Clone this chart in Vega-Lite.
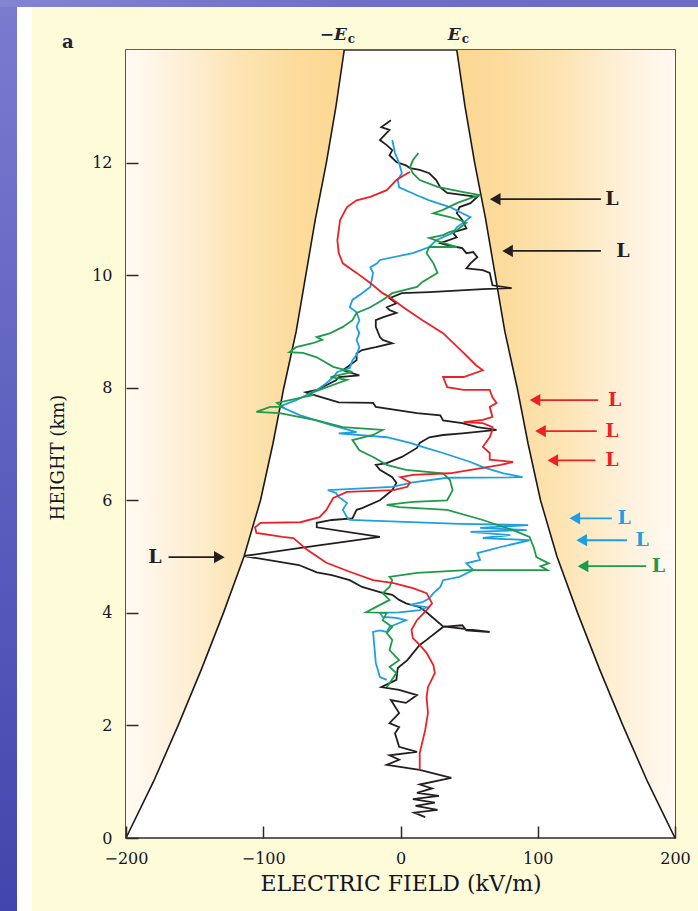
{
"$schema": "https://vega.github.io/schema/vega-lite/v6.json",
"background": "#fefbd8",
"padding": 0,
"spacing": 0,
"bounds": "flush",
"config": {"view": {"stroke": null}},
"datasets": {
"ec": [
{"z":0,"left":-200,"right":200},{"z":1,"left":-180,"right":180},{"z":2,"left":-162,"right":162},{"z":3,"left":-145,"right":145},{"z":4,"left":-129,"right":129},{"z":5,"left":-114,"right":114},{"z":6,"left":-102,"right":102},{"z":7,"left":-93,"right":93},{"z":8,"left":-85,"right":85},{"z":9,"left":-76,"right":76},{"z":10,"left":-69,"right":69},{"z":11,"left":-62,"right":62},{"z":12,"left":-54,"right":54},{"z":13,"left":-47,"right":47},{"z":14,"left":-41,"right":41}
],
"arrows": [
{"s":"k","z":11.35,"tail":146,"tip":69,"lab":154},
{"s":"k","z":10.43,"tail":146,"tip":78,"lab":162},
{"s":"r","z":7.78,"tail":144,"tip":98,"lab":156},
{"s":"r","z":7.23,"tail":143,"tip":102,"lab":154},
{"s":"r","z":6.71,"tail":142,"tip":111,"lab":154},
{"s":"b","z":5.68,"tail":154,"tip":127,"lab":163},
{"s":"b","z":5.29,"tail":165,"tip":132,"lab":176},
{"s":"g","z":4.83,"tail":179,"tip":133,"lab":188},
{"s":"k","z":4.99,"tail":-169,"tip":-132,"lab":-179}
],
"eclab": [
{"x":-42,"z":14,"t":"−E"},{"x":41,"z":14,"t":"E"}
],
"prof": [
{"s":"k","i":1,"E":18,"z":0.37},{"s":"k","i":2,"E":10,"z":0.45},{"s":"k","i":3,"E":27,"z":0.5},{"s":"k","i":4,"E":11,"z":0.57},{"s":"k","i":5,"E":25,"z":0.63},{"s":"k","i":6,"E":9,"z":0.69},{"s":"k","i":7,"E":28,"z":0.75},{"s":"k","i":8,"E":12,"z":0.8},{"s":"k","i":9,"E":23,"z":0.88},{"s":"k","i":10,"E":14,"z":0.95},
{"s":"k","i":11,"E":37,"z":1.07},{"s":"k","i":12,"E":14,"z":1.21},{"s":"k","i":13,"E":-10,"z":1.3},{"s":"k","i":14,"E":-1,"z":1.39},{"s":"k","i":15,"E":-8,"z":1.47},{"s":"k","i":16,"E":12,"z":1.53},{"s":"k","i":17,"E":-1,"z":1.62},{"s":"k","i":18,"E":-4,"z":1.86},{"s":"k","i":19,"E":-1,"z":1.97},{"s":"k","i":20,"E":-8,"z":2.04},
{"s":"k","i":21,"E":-1,"z":2.22},{"s":"k","i":22,"E":-7,"z":2.45},{"s":"k","i":23,"E":4,"z":2.4},{"s":"k","i":24,"E":12,"z":2.54},{"s":"k","i":25,"E":-1,"z":2.63},{"s":"k","i":26,"E":-14,"z":2.68},{"s":"k","i":27,"E":-3,"z":2.81},{"s":"k","i":28,"E":-2,"z":3.02},{"s":"k","i":29,"E":5,"z":3.16},{"s":"k","i":30,"E":14,"z":3.43},
{"s":"k","i":31,"E":19,"z":3.52},{"s":"k","i":32,"E":31,"z":3.75},{"s":"k","i":33,"E":45,"z":3.78},{"s":"k","i":34,"E":48,"z":3.69},{"s":"k","i":35,"E":65,"z":3.66},{"s":"k","i":36,"E":45,"z":3.72},{"s":"k","i":37,"E":31,"z":3.76},{"s":"k","i":38,"E":19,"z":4.01},{"s":"k","i":39,"E":14,"z":4.1},{"s":"k","i":40,"E":4,"z":4.17},
{"s":"k","i":41,"E":-1,"z":4.23},{"s":"k","i":42,"E":-6,"z":4.32},{"s":"k","i":43,"E":-15,"z":4.37},{"s":"k","i":44,"E":-28,"z":4.46},{"s":"k","i":45,"E":-37,"z":4.58},{"s":"k","i":46,"E":-50,"z":4.67},{"s":"k","i":47,"E":-61,"z":4.72},{"s":"k","i":48,"E":-74,"z":4.85},{"s":"k","i":49,"E":-114,"z":5.01},{"s":"k","i":50,"E":-74,"z":5.15},
{"s":"k","i":51,"E":-15,"z":5.35},{"s":"k","i":52,"E":-61,"z":5.52},{"s":"k","i":53,"E":-61,"z":5.6},{"s":"k","i":54,"E":-50,"z":5.65},{"s":"k","i":55,"E":-35,"z":5.68},{"s":"k","i":56,"E":-32,"z":5.83},{"s":"k","i":57,"E":-28,"z":5.86},{"s":"k","i":58,"E":-15,"z":6.0},{"s":"k","i":59,"E":-6,"z":6.18},{"s":"k","i":60,"E":-3,"z":6.31},
{"s":"k","i":61,"E":-6,"z":6.41},{"s":"k","i":62,"E":-15,"z":6.54},{"s":"k","i":63,"E":-18,"z":6.63},{"s":"k","i":64,"E":-10,"z":6.66},{"s":"k","i":65,"E":1,"z":6.77},{"s":"k","i":66,"E":12,"z":6.93},{"s":"k","i":67,"E":14,"z":7.02},{"s":"k","i":68,"E":21,"z":7.12},{"s":"k","i":69,"E":31,"z":7.16},{"s":"k","i":70,"E":45,"z":7.19},
{"s":"k","i":71,"E":70,"z":7.25},{"s":"k","i":72,"E":56,"z":7.3},{"s":"k","i":73,"E":45,"z":7.37},{"s":"k","i":74,"E":31,"z":7.42},{"s":"k","i":75,"E":29,"z":7.51},{"s":"k","i":76,"E":12,"z":7.55},{"s":"k","i":77,"E":-18,"z":7.66},{"s":"k","i":78,"E":-20,"z":7.73},{"s":"k","i":79,"E":-45,"z":7.74},{"s":"k","i":80,"E":-67,"z":7.9},
{"s":"k","i":81,"E":-69,"z":7.92},{"s":"k","i":82,"E":-61,"z":7.96},{"s":"k","i":83,"E":-47,"z":8.13},{"s":"k","i":84,"E":-45,"z":8.19},{"s":"k","i":85,"E":-30,"z":8.22},{"s":"k","i":86,"E":-42,"z":8.31},{"s":"k","i":87,"E":-37,"z":8.4},{"s":"k","i":88,"E":-32,"z":8.49},{"s":"k","i":89,"E":-32,"z":8.61},{"s":"k","i":90,"E":-28,"z":8.67},
{"s":"k","i":91,"E":-18,"z":8.72},{"s":"k","i":92,"E":-6,"z":8.79},{"s":"k","i":93,"E":-13,"z":8.85},{"s":"k","i":94,"E":-15,"z":8.9},{"s":"k","i":95,"E":-18,"z":9.08},{"s":"k","i":96,"E":-18,"z":9.2},{"s":"k","i":97,"E":-13,"z":9.25},{"s":"k","i":98,"E":-3,"z":9.33},{"s":"k","i":99,"E":-8,"z":9.38},{"s":"k","i":100,"E":-10,"z":9.43},
{"s":"k","i":101,"E":-3,"z":9.5},{"s":"k","i":102,"E":-8,"z":9.59},{"s":"k","i":103,"E":1,"z":9.68},{"s":"k","i":104,"E":21,"z":9.7},{"s":"k","i":105,"E":60,"z":9.75},{"s":"k","i":106,"E":81,"z":9.77},{"s":"k","i":107,"E":67,"z":9.82},{"s":"k","i":108,"E":65,"z":10.04},{"s":"k","i":109,"E":60,"z":10.09},{"s":"k","i":110,"E":48,"z":10.12},
{"s":"k","i":111,"E":51,"z":10.21},{"s":"k","i":112,"E":56,"z":10.32},{"s":"k","i":113,"E":53,"z":10.41},{"s":"k","i":114,"E":48,"z":10.39},{"s":"k","i":115,"E":45,"z":10.48},{"s":"k","i":116,"E":41,"z":10.5},{"s":"k","i":117,"E":36,"z":10.52},{"s":"k","i":118,"E":29,"z":10.57},{"s":"k","i":119,"E":41,"z":10.67},{"s":"k","i":120,"E":38,"z":10.76},
{"s":"k","i":121,"E":48,"z":10.83},{"s":"k","i":122,"E":45,"z":10.98},{"s":"k","i":123,"E":41,"z":11.1},{"s":"k","i":124,"E":43,"z":11.21},{"s":"k","i":125,"E":51,"z":11.28},{"s":"k","i":126,"E":56,"z":11.39},{"s":"k","i":127,"E":34,"z":11.46},{"s":"k","i":128,"E":29,"z":11.56},{"s":"k","i":129,"E":26,"z":11.69},{"s":"k","i":130,"E":21,"z":11.81},
{"s":"k","i":131,"E":14,"z":11.87},{"s":"k","i":132,"E":7,"z":11.9},{"s":"k","i":133,"E":4,"z":11.95},{"s":"k","i":134,"E":-3,"z":12.01},{"s":"k","i":135,"E":-8,"z":12.13},{"s":"k","i":136,"E":-6,"z":12.22},{"s":"k","i":137,"E":-10,"z":12.31},{"s":"k","i":138,"E":-15,"z":12.4},{"s":"k","i":139,"E":-13,"z":12.45},{"s":"k","i":140,"E":-8,"z":12.58},
{"s":"k","i":141,"E":-14,"z":12.63},{"s":"k","i":142,"E":-10,"z":12.7},{"s":"k","i":143,"E":-7,"z":12.75},
{"s":"b","i":1,"E":-10,"z":2.81},{"s":"b","i":2,"E":-15,"z":2.86},{"s":"b","i":3,"E":-18,"z":3.11},{"s":"b","i":4,"E":-19,"z":3.39},{"s":"b","i":5,"E":-20,"z":3.66},{"s":"b","i":6,"E":-15,"z":3.69},{"s":"b","i":7,"E":-10,"z":3.66},{"s":"b","i":8,"E":-8,"z":3.75},{"s":"b","i":9,"E":-1,"z":3.82},{"s":"b","i":10,"E":4,"z":3.87},
{"s":"b","i":11,"E":-3,"z":3.91},{"s":"b","i":12,"E":-13,"z":3.93},{"s":"b","i":13,"E":-15,"z":4.0},{"s":"b","i":14,"E":-1,"z":4.01},{"s":"b","i":15,"E":14,"z":4.05},{"s":"b","i":16,"E":19,"z":4.1},{"s":"b","i":17,"E":7,"z":4.14},{"s":"b","i":18,"E":16,"z":4.19},{"s":"b","i":19,"E":21,"z":4.26},{"s":"b","i":20,"E":24,"z":4.35},
{"s":"b","i":21,"E":29,"z":4.46},{"s":"b","i":22,"E":31,"z":4.58},{"s":"b","i":23,"E":43,"z":4.64},{"s":"b","i":24,"E":53,"z":4.76},{"s":"b","i":25,"E":48,"z":4.88},{"s":"b","i":26,"E":58,"z":4.94},{"s":"b","i":27,"E":56,"z":5.06},{"s":"b","i":28,"E":65,"z":5.12},{"s":"b","i":29,"E":73,"z":5.17},{"s":"b","i":30,"E":94,"z":5.29},
{"s":"b","i":31,"E":60,"z":5.33},{"s":"b","i":32,"E":80,"z":5.38},{"s":"b","i":33,"E":51,"z":5.44},{"s":"b","i":34,"E":92,"z":5.47},{"s":"b","i":35,"E":58,"z":5.51},{"s":"b","i":36,"E":93,"z":5.56},{"s":"b","i":37,"E":43,"z":5.58},{"s":"b","i":38,"E":-37,"z":5.65},{"s":"b","i":39,"E":-39,"z":5.7},{"s":"b","i":40,"E":-42,"z":5.83},
{"s":"b","i":41,"E":-39,"z":5.95},{"s":"b","i":42,"E":-45,"z":6.06},{"s":"b","i":43,"E":-47,"z":6.13},{"s":"b","i":44,"E":-53,"z":6.18},{"s":"b","i":45,"E":-6,"z":6.24},{"s":"b","i":46,"E":9,"z":6.32},{"s":"b","i":47,"E":34,"z":6.4},{"s":"b","i":48,"E":89,"z":6.41},{"s":"b","i":49,"E":75,"z":6.48},{"s":"b","i":50,"E":60,"z":6.59},
{"s":"b","i":51,"E":51,"z":6.68},{"s":"b","i":52,"E":31,"z":6.84},{"s":"b","i":53,"E":16,"z":6.95},{"s":"b","i":54,"E":7,"z":7.02},{"s":"b","i":55,"E":-10,"z":7.12},{"s":"b","i":56,"E":-45,"z":7.19},{"s":"b","i":57,"E":-32,"z":7.21},{"s":"b","i":58,"E":-51,"z":7.34},{"s":"b","i":59,"E":-73,"z":7.51},{"s":"b","i":60,"E":-88,"z":7.67},
{"s":"b","i":61,"E":-76,"z":7.78},{"s":"b","i":62,"E":-61,"z":7.96},{"s":"b","i":63,"E":-54,"z":8.08},{"s":"b","i":64,"E":-49,"z":8.19},{"s":"b","i":65,"E":-46,"z":8.28},{"s":"b","i":66,"E":-37,"z":8.35},{"s":"b","i":67,"E":-35,"z":8.49},{"s":"b","i":68,"E":-32,"z":8.58},{"s":"b","i":69,"E":-30,"z":8.72},{"s":"b","i":70,"E":-32,"z":8.85},
{"s":"b","i":71,"E":-30,"z":8.97},{"s":"b","i":72,"E":-32,"z":9.08},{"s":"b","i":73,"E":-30,"z":9.2},{"s":"b","i":74,"E":-32,"z":9.34},{"s":"b","i":75,"E":-37,"z":9.43},{"s":"b","i":76,"E":-35,"z":9.56},{"s":"b","i":77,"E":-28,"z":9.68},{"s":"b","i":78,"E":-22,"z":9.79},{"s":"b","i":79,"E":-20,"z":10.04},{"s":"b","i":80,"E":-22,"z":10.14},
{"s":"b","i":81,"E":-17,"z":10.21},{"s":"b","i":82,"E":-15,"z":10.27},{"s":"b","i":83,"E":9,"z":10.39},{"s":"b","i":84,"E":21,"z":10.5},{"s":"b","i":85,"E":26,"z":10.62},{"s":"b","i":86,"E":38,"z":10.75},{"s":"b","i":87,"E":41,"z":10.85},{"s":"b","i":88,"E":45,"z":10.92},{"s":"b","i":89,"E":51,"z":11.03},{"s":"b","i":90,"E":45,"z":11.1},
{"s":"b","i":91,"E":41,"z":11.15},{"s":"b","i":92,"E":36,"z":11.21},{"s":"b","i":93,"E":21,"z":11.33},{"s":"b","i":94,"E":12,"z":11.42},{"s":"b","i":95,"E":-1,"z":11.56},{"s":"b","i":96,"E":-2,"z":11.69},{"s":"b","i":97,"E":1,"z":11.81},{"s":"b","i":98,"E":-1,"z":11.99},{"s":"b","i":99,"E":-4,"z":12.17},{"s":"b","i":100,"E":-6,"z":12.4},
{"s":"g","i":1,"E":-10,"z":2.68},{"s":"g","i":2,"E":-3,"z":2.93},{"s":"g","i":3,"E":-8,"z":3.04},{"s":"g","i":4,"E":-1,"z":3.16},{"s":"g","i":5,"E":-8,"z":3.34},{"s":"g","i":6,"E":-6,"z":3.52},{"s":"g","i":7,"E":-10,"z":3.64},{"s":"g","i":8,"E":-6,"z":3.75},{"s":"g","i":9,"E":-13,"z":3.87},{"s":"g","i":10,"E":-10,"z":4.0},
{"s":"g","i":11,"E":-25,"z":4.01},{"s":"g","i":12,"E":-8,"z":4.23},{"s":"g","i":13,"E":-13,"z":4.35},{"s":"g","i":14,"E":-8,"z":4.46},{"s":"g","i":15,"E":-6,"z":4.58},{"s":"g","i":16,"E":-8,"z":4.64},{"s":"g","i":17,"E":12,"z":4.71},{"s":"g","i":18,"E":48,"z":4.76},{"s":"g","i":19,"E":107,"z":4.76},{"s":"g","i":20,"E":102,"z":4.83},
{"s":"g","i":21,"E":108,"z":4.88},{"s":"g","i":22,"E":99,"z":4.99},{"s":"g","i":23,"E":97,"z":5.17},{"s":"g","i":24,"E":94,"z":5.35},{"s":"g","i":25,"E":82,"z":5.47},{"s":"g","i":26,"E":60,"z":5.65},{"s":"g","i":27,"E":34,"z":5.83},{"s":"g","i":28,"E":-1,"z":5.88},{"s":"g","i":29,"E":-10,"z":5.92},{"s":"g","i":30,"E":9,"z":5.97},
{"s":"g","i":31,"E":34,"z":6.0},{"s":"g","i":32,"E":38,"z":6.18},{"s":"g","i":33,"E":36,"z":6.36},{"s":"g","i":34,"E":31,"z":6.48},{"s":"g","i":35,"E":4,"z":6.54},{"s":"g","i":36,"E":-10,"z":6.63},{"s":"g","i":37,"E":-20,"z":6.77},{"s":"g","i":38,"E":-30,"z":6.89},{"s":"g","i":39,"E":-35,"z":7.07},{"s":"g","i":40,"E":-20,"z":7.16},
{"s":"g","i":41,"E":-13,"z":7.25},{"s":"g","i":42,"E":-42,"z":7.3},{"s":"g","i":43,"E":-61,"z":7.42},{"s":"g","i":44,"E":-88,"z":7.55},{"s":"g","i":45,"E":-105,"z":7.57},{"s":"g","i":46,"E":-95,"z":7.66},{"s":"g","i":47,"E":-86,"z":7.66},{"s":"g","i":48,"E":-90,"z":7.73},{"s":"g","i":49,"E":-64,"z":7.87},{"s":"g","i":50,"E":-66,"z":7.9},
{"s":"g","i":51,"E":-39,"z":8.14},{"s":"g","i":52,"E":-51,"z":8.19},{"s":"g","i":53,"E":-35,"z":8.28},{"s":"g","i":54,"E":-49,"z":8.37},{"s":"g","i":55,"E":-61,"z":8.54},{"s":"g","i":56,"E":-71,"z":8.62},{"s":"g","i":57,"E":-81,"z":8.63},{"s":"g","i":58,"E":-76,"z":8.72},{"s":"g","i":59,"E":-64,"z":8.79},{"s":"g","i":60,"E":-57,"z":8.85},
{"s":"g","i":61,"E":-61,"z":8.9},{"s":"g","i":62,"E":-51,"z":8.97},{"s":"g","i":63,"E":-42,"z":9.08},{"s":"g","i":64,"E":-35,"z":9.2},{"s":"g","i":65,"E":-32,"z":9.33},{"s":"g","i":66,"E":-22,"z":9.43},{"s":"g","i":67,"E":-13,"z":9.56},{"s":"g","i":68,"E":-6,"z":9.68},{"s":"g","i":69,"E":12,"z":9.79},{"s":"g","i":70,"E":16,"z":9.88},
{"s":"g","i":71,"E":27,"z":10.04},{"s":"g","i":72,"E":24,"z":10.21},{"s":"g","i":73,"E":19,"z":10.39},{"s":"g","i":74,"E":21,"z":10.5},{"s":"g","i":75,"E":41,"z":10.5},{"s":"g","i":76,"E":29,"z":10.59},{"s":"g","i":77,"E":21,"z":10.66},{"s":"g","i":78,"E":31,"z":10.71},{"s":"g","i":79,"E":36,"z":10.77},{"s":"g","i":80,"E":41,"z":10.8},
{"s":"g","i":81,"E":48,"z":10.93},{"s":"g","i":82,"E":43,"z":10.98},{"s":"g","i":83,"E":36,"z":11.03},{"s":"g","i":84,"E":24,"z":11.1},{"s":"g","i":85,"E":31,"z":11.16},{"s":"g","i":86,"E":41,"z":11.28},{"s":"g","i":87,"E":51,"z":11.37},{"s":"g","i":88,"E":58,"z":11.42},{"s":"g","i":89,"E":45,"z":11.48},{"s":"g","i":90,"E":27,"z":11.57},
{"s":"g","i":91,"E":14,"z":11.69},{"s":"g","i":92,"E":9,"z":11.81},{"s":"g","i":93,"E":7,"z":11.92},{"s":"g","i":94,"E":9,"z":12.04},{"s":"g","i":95,"E":13,"z":12.17},
{"s":"r","i":1,"E":14,"z":1.21},{"s":"r","i":2,"E":14,"z":1.51},{"s":"r","i":3,"E":18,"z":1.92},{"s":"r","i":4,"E":20,"z":2.22},{"s":"r","i":5,"E":19,"z":2.5},{"s":"r","i":6,"E":20,"z":2.68},{"s":"r","i":7,"E":25,"z":2.93},{"s":"r","i":8,"E":24,"z":3.07},{"s":"r","i":9,"E":19,"z":3.29},{"s":"r","i":10,"E":14,"z":3.43},
{"s":"r","i":11,"E":9,"z":3.55},{"s":"r","i":12,"E":8,"z":3.7},{"s":"r","i":13,"E":12,"z":3.87},{"s":"r","i":14,"E":19,"z":4.05},{"s":"r","i":15,"E":23,"z":4.17},{"s":"r","i":16,"E":19,"z":4.35},{"s":"r","i":17,"E":9,"z":4.44},{"s":"r","i":18,"E":-5,"z":4.53},{"s":"r","i":19,"E":-20,"z":4.58},{"s":"r","i":20,"E":-37,"z":4.73},
{"s":"r","i":21,"E":-54,"z":4.89},{"s":"r","i":22,"E":-68,"z":5.12},{"s":"r","i":23,"E":-78,"z":5.33},{"s":"r","i":24,"E":-86,"z":5.35},{"s":"r","i":25,"E":-105,"z":5.42},{"s":"r","i":26,"E":-106,"z":5.52},{"s":"r","i":27,"E":-102,"z":5.6},{"s":"r","i":28,"E":-73,"z":5.61},{"s":"r","i":29,"E":-59,"z":5.7},{"s":"r","i":30,"E":-54,"z":5.83},
{"s":"r","i":31,"E":-49,"z":6.04},{"s":"r","i":32,"E":-39,"z":6.15},{"s":"r","i":33,"E":-5,"z":6.18},{"s":"r","i":34,"E":5,"z":6.24},{"s":"r","i":35,"E":7,"z":6.32},{"s":"r","i":36,"E":0,"z":6.41},{"s":"r","i":37,"E":9,"z":6.45},{"s":"r","i":38,"E":36,"z":6.48},{"s":"r","i":39,"E":73,"z":6.63},{"s":"r","i":40,"E":82,"z":6.68},
{"s":"r","i":41,"E":65,"z":6.72},{"s":"r","i":42,"E":65,"z":6.84},{"s":"r","i":43,"E":60,"z":6.95},{"s":"r","i":44,"E":65,"z":7.12},{"s":"r","i":45,"E":67,"z":7.25},{"s":"r","i":46,"E":67,"z":7.3},{"s":"r","i":47,"E":60,"z":7.37},{"s":"r","i":48,"E":46,"z":7.39},{"s":"r","i":49,"E":60,"z":7.43},{"s":"r","i":50,"E":67,"z":7.48},
{"s":"r","i":51,"E":65,"z":7.66},{"s":"r","i":52,"E":70,"z":7.73},{"s":"r","i":53,"E":67,"z":7.83},{"s":"r","i":54,"E":65,"z":7.96},{"s":"r","i":55,"E":46,"z":7.96},{"s":"r","i":56,"E":34,"z":8.01},{"s":"r","i":57,"E":31,"z":8.19},{"s":"r","i":58,"E":46,"z":8.19},{"s":"r","i":59,"E":60,"z":8.31},{"s":"r","i":60,"E":55,"z":8.4},
{"s":"r","i":61,"E":46,"z":8.62},{"s":"r","i":62,"E":31,"z":8.97},{"s":"r","i":63,"E":16,"z":9.2},{"s":"r","i":64,"E":2,"z":9.43},{"s":"r","i":65,"E":-8,"z":9.61},{"s":"r","i":66,"E":-13,"z":9.68},{"s":"r","i":67,"E":-22,"z":9.86},{"s":"r","i":68,"E":-32,"z":10.04},{"s":"r","i":69,"E":-42,"z":10.21},{"s":"r","i":70,"E":-45,"z":10.39},
{"s":"r","i":71,"E":-46,"z":10.62},{"s":"r","i":72,"E":-44,"z":10.98},{"s":"r","i":73,"E":-39,"z":11.21},{"s":"r","i":74,"E":-32,"z":11.33},{"s":"r","i":75,"E":-22,"z":11.39},{"s":"r","i":76,"E":-10,"z":11.51},{"s":"r","i":77,"E":-3,"z":11.69},{"s":"r","i":78,"E":5,"z":11.81},{"s":"r","i":79,"E":7,"z":11.83}
]
},
"vconcat": [
{"width": 698, "height": 7, "data": {"values": [{"a": 1}]},
 "mark": {"type": "rect", "color": {"gradient": "linear", "x1": 0, "y1": 0, "x2": 1, "y2": 0, "stops": [{"offset": 0, "color": "#8384d2"}, {"offset": 0.5, "color": "#6e6fc7"}, {"offset": 1, "color": "#6a6cc5"}]}}},
{"hconcat": [
  {"hconcat": [
    {"width": 17, "height": 904, "data": {"values": [{"a": 1}]},
     "mark": {"type": "rect", "color": {"gradient": "linear", "x1": 0, "y1": 0, "x2": 0, "y2": 1, "stops": [{"offset": 0, "color": "#7a7bcf"}, {"offset": 0.45, "color": "#6062c1"}, {"offset": 1, "color": "#4345ae"}]}}},
    {"width": 15, "height": 904, "data": {"values": [{"a": 1}]},
     "mark": {"type": "rect", "color": "#ffffff"}}
  ], "spacing": 0, "bounds": "flush"},
  {"vconcat": [
    {"width": 549, "height": 1, "data": {"values": [{"a": 1}]}, "mark": {"type": "rect", "opacity": 0}},
    {"width": 549, "height": 788,
     "view": {"stroke": "#2b2b2b", "strokeWidth": 1.6, "fill": "#ffffff"},
     "title": {"text": "a", "anchor": "start", "frame": "group", "dx": -64, "dy": 30, "font": "DejaVu Serif", "fontSize": 18, "fontWeight": "bold", "color": "#1f1f33"},
     "layer": [
      {"data": {"name": "ec"},
       "mark": {"type": "area", "orient": "horizontal", "color": {"gradient": "linear", "x1": 0, "y1": 0, "x2": 1, "y2": 0, "stops": [{"offset": 0, "color": "#fffaf3"}, {"offset": 0.25, "color": "#fef0d8"}, {"offset": 0.52, "color": "#fde4b3"}, {"offset": 0.8, "color": "#fcdb9c"}, {"offset": 1, "color": "#fcd892"}]}},
       "encoding": {
         "y": {"field": "z", "type": "quantitative", "scale": {"domain": [0, 14], "nice": false, "zero": false},
               "axis": {"title": "HEIGHT (km)", "values": [0, 2, 4, 6, 8, 10, 12], "format": "d", "ticks": true, "tickSize": 12, "offset": -12, "labelPadding": 14, "domain": false, "grid": false, "zindex": 2, "labelFont": "DejaVu Serif", "labelFontSize": 16, "labelColor": "#151528", "tickColor": "#2b2b2b", "tickWidth": 1.5, "titleFont": "DejaVu Serif", "titleFontSize": 18, "titleFontWeight": "normal", "titleColor": "#151528", "titlePadding": 24, "titleY": 407}},
         "x": {"field": "left", "type": "quantitative", "scale": {"domain": [-200, 200], "nice": false, "zero": false},
               "axis": {"title": "ELECTRIC FIELD (kV/m)", "values": [-200, -100, 0, 100, 200], "format": "d", "ticks": true, "tickSize": 12, "offset": -12, "labelPadding": 12, "labelFlush": false, "domain": false, "grid": false, "zindex": 2, "labelFont": "DejaVu Serif", "labelFontSize": 16, "labelColor": "#151528", "tickColor": "#2b2b2b", "tickWidth": 1.5, "titleFont": "DejaVu Serif", "titleFontSize": 22, "titleFontWeight": "normal", "titleColor": "#151528", "titlePadding": 7}},
         "x2": {"datum": -200}}},
      {"data": {"name": "ec"},
       "mark": {"type": "area", "orient": "horizontal", "color": {"gradient": "linear", "x1": 0, "y1": 0, "x2": 1, "y2": 0, "stops": [{"offset": 0, "color": "#fcd892"}, {"offset": 0.2, "color": "#fcdb9c"}, {"offset": 0.48, "color": "#fde4b3"}, {"offset": 0.75, "color": "#fef0d8"}, {"offset": 1, "color": "#fffaf3"}]}},
       "encoding": {
         "y": {"field": "z", "type": "quantitative"},
         "x": {"field": "right", "type": "quantitative"},
         "x2": {"datum": 200}}},
      {"data": {"name": "ec"},
       "mark": {"type": "line", "color": "#1a1a1a", "strokeWidth": 1.6},
       "encoding": {
         "y": {"field": "z", "type": "quantitative"},
         "x": {"field": "left", "type": "quantitative"},
         "order": {"field": "z"}}},
      {"data": {"name": "ec"},
       "mark": {"type": "line", "color": "#1a1a1a", "strokeWidth": 1.6},
       "encoding": {
         "y": {"field": "z", "type": "quantitative"},
         "x": {"field": "right", "type": "quantitative"},
         "order": {"field": "z"}}},
      {"data": {"name": "prof"},
       "mark": {"type": "line", "strokeWidth": 1.8},
       "encoding": {
         "y": {"field": "z", "type": "quantitative"},
         "x": {"field": "E", "type": "quantitative"},
         "color": {"field": "s", "type": "nominal", "scale": {"domain": ["k", "b", "g", "r"], "range": ["#231f20", "#1d9fe2", "#1f9a48", "#ec2126"]}, "legend": null},
         "order": {"field": "i"}}},
      {"data": {"name": "arrows"},
       "mark": {"type": "rule", "strokeWidth": 1.8},
       "encoding": {
         "y": {"field": "z", "type": "quantitative"},
         "x": {"field": "tail", "type": "quantitative"},
         "x2": {"field": "tip"},
         "color": {"field": "s", "type": "nominal", "legend": null}}},
      {"data": {"name": "arrows"},
       "transform": [{"filter": "datum.tip < datum.tail"}],
       "mark": {"type": "point", "shape": "triangle-left", "filled": true, "size": 150, "opacity": 1},
       "encoding": {
         "y": {"field": "z", "type": "quantitative"},
         "x": {"field": "tip", "type": "quantitative"},
         "color": {"field": "s", "type": "nominal", "legend": null}}},
      {"data": {"name": "arrows"},
       "transform": [{"filter": "datum.tip > datum.tail"}],
       "mark": {"type": "point", "shape": "triangle-right", "filled": true, "size": 150, "opacity": 1},
       "encoding": {
         "y": {"field": "z", "type": "quantitative"},
         "x": {"field": "tip", "type": "quantitative"},
         "color": {"field": "s", "type": "nominal", "legend": null}}},
      {"data": {"name": "arrows"},
       "mark": {"type": "text", "text": "L", "font": "DejaVu Serif", "fontSize": 19, "fontWeight": "bold", "align": "center", "baseline": "middle"},
       "encoding": {
         "y": {"field": "z", "type": "quantitative"},
         "x": {"field": "lab", "type": "quantitative"},
         "color": {"field": "s", "type": "nominal", "legend": null}}},
      {"data": {"name": "eclab"},
       "mark": {"type": "text", "font": "DejaVu Serif", "fontSize": 17, "fontStyle": "italic", "fontWeight": "bold", "align": "right", "baseline": "alphabetic", "dx": 4, "dy": -10, "color": "#1f1f33"},
       "encoding": {
         "y": {"field": "z", "type": "quantitative"},
         "x": {"field": "x", "type": "quantitative"},
         "text": {"field": "t"}}},
      {"data": {"name": "eclab"},
       "mark": {"type": "text", "text": "c", "font": "DejaVu Serif", "fontSize": 12, "fontWeight": "bold", "align": "left", "baseline": "alphabetic", "dx": 5, "dy": -7, "color": "#1f1f33"},
       "encoding": {
         "y": {"field": "z", "type": "quantitative"},
         "x": {"field": "x", "type": "quantitative"}}}
     ]}
  ], "spacing": 42, "bounds": "flush"}
 ], "spacing": 126, "bounds": "flush"}
]
}
